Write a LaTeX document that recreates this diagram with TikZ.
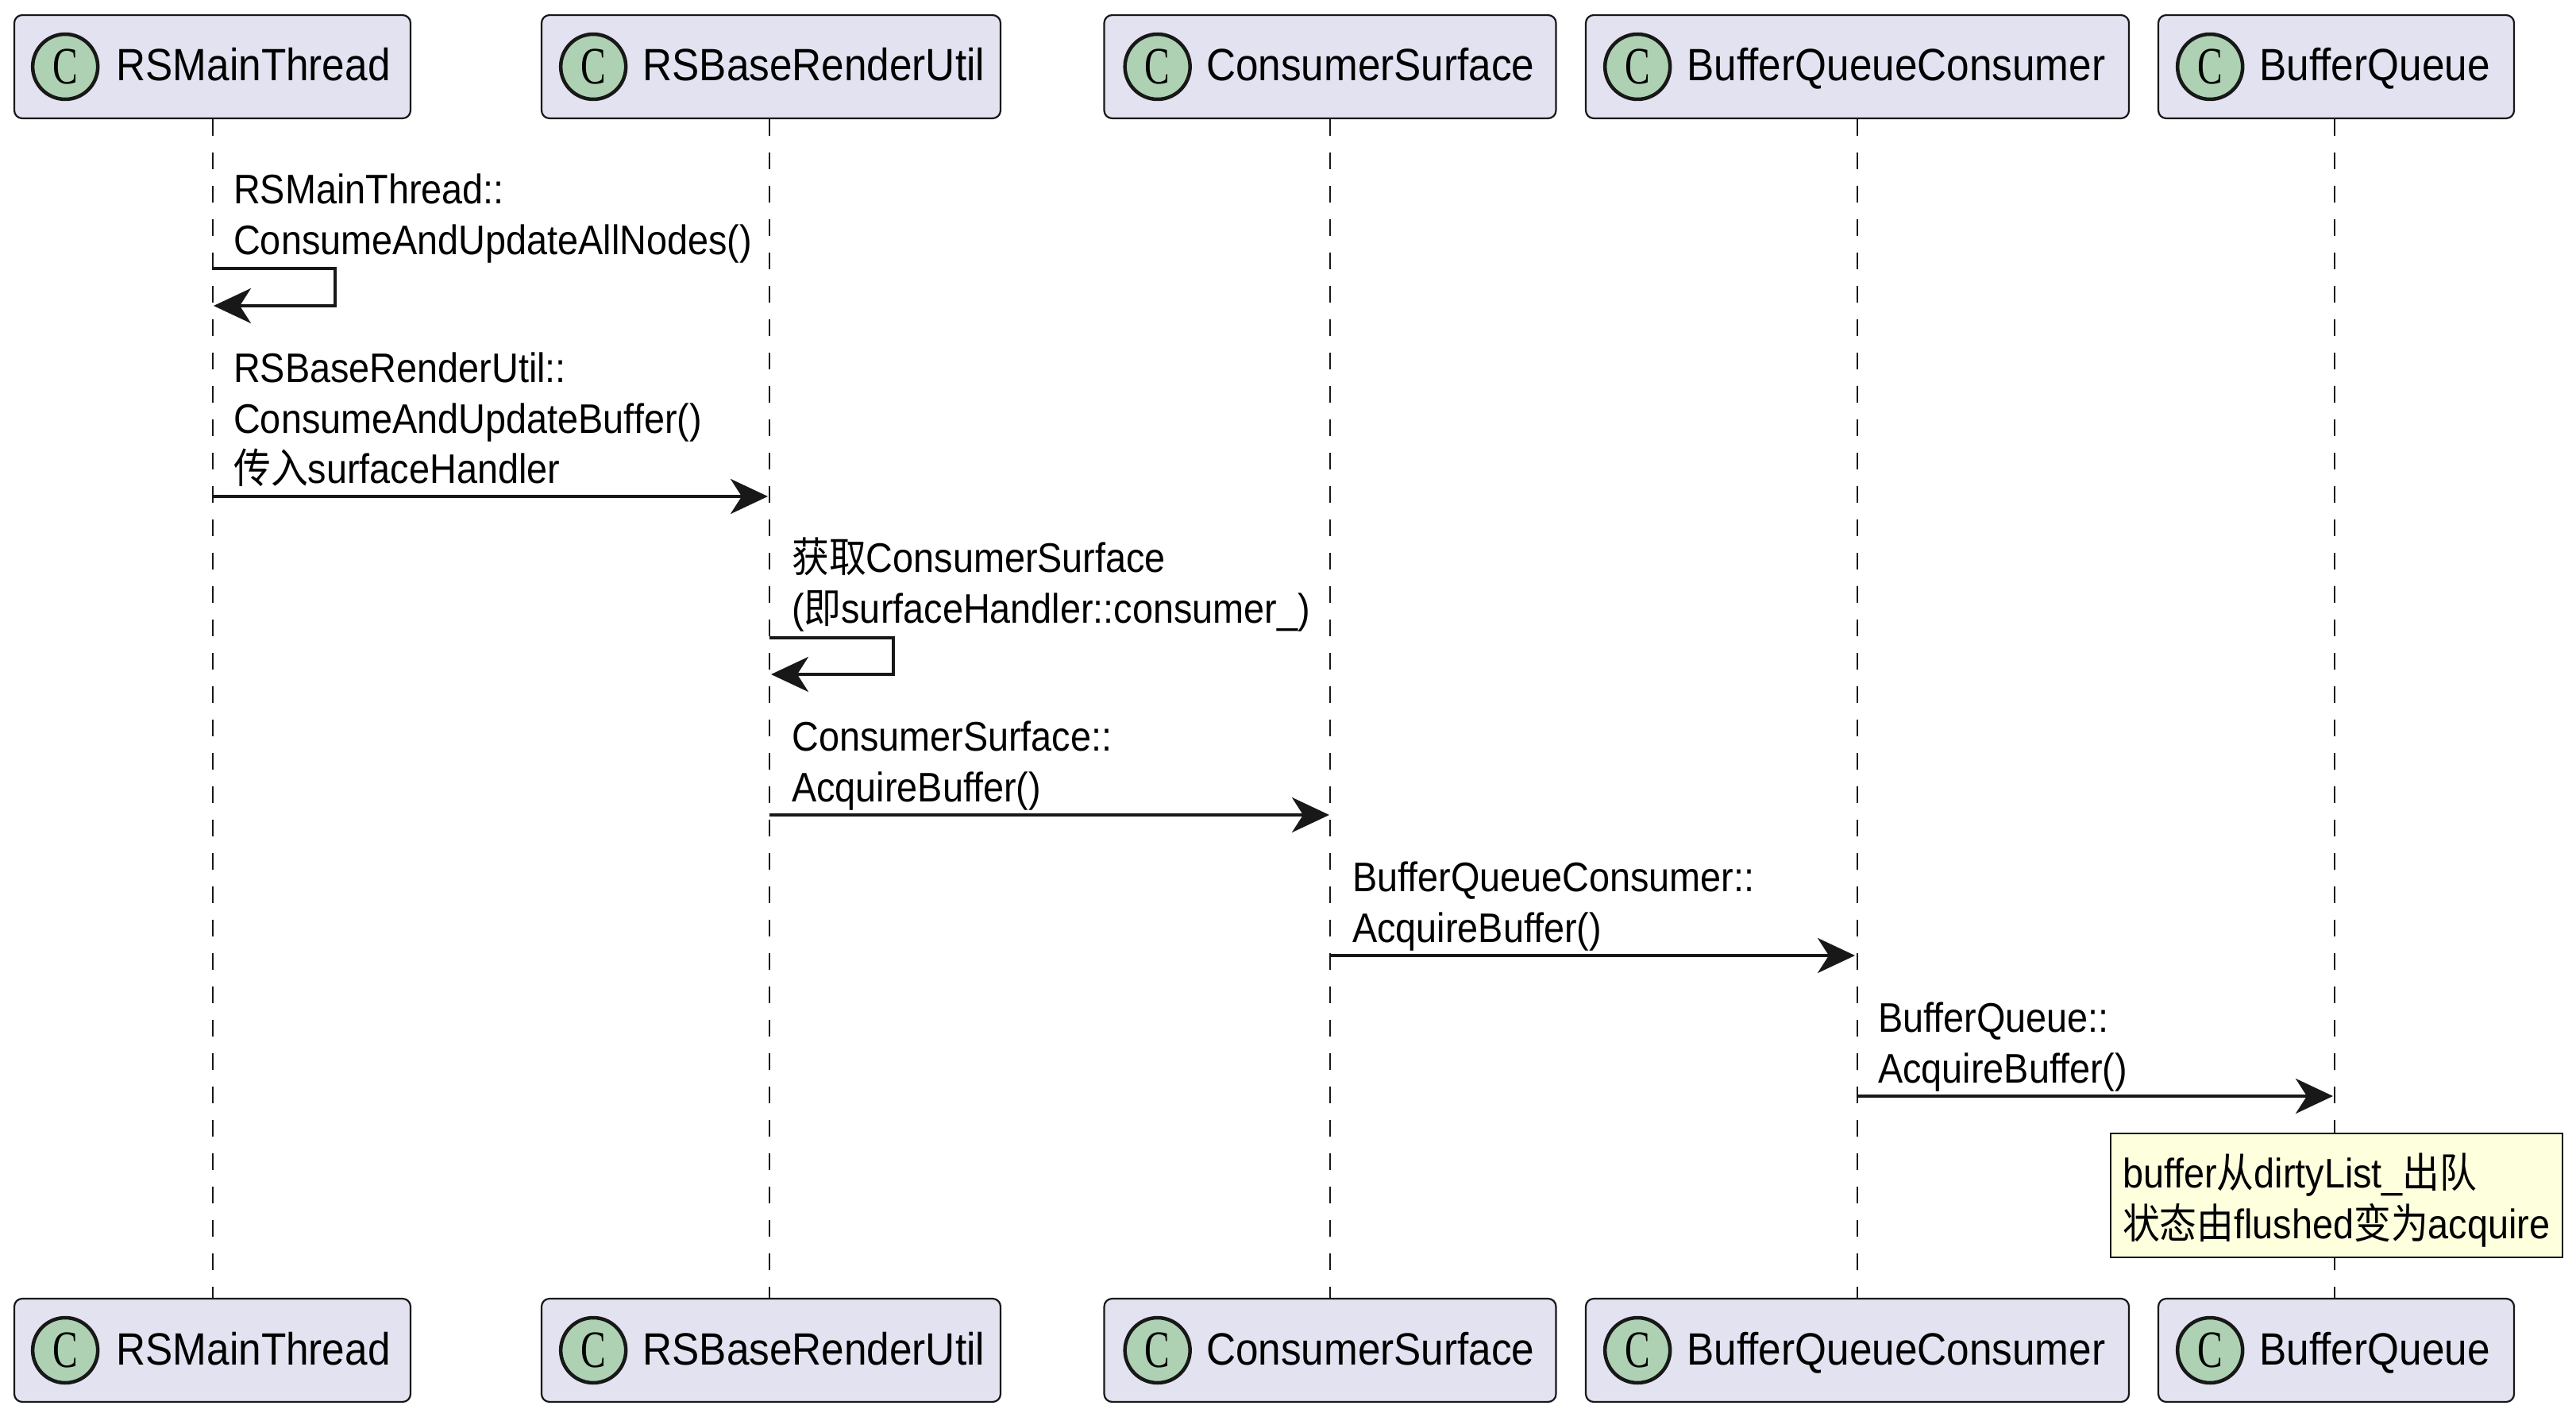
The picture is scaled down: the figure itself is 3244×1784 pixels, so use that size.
\documentclass[tikz,border=0pt]{standalone}
\usepackage{fontspec}
\setmainfont[FakeStretch=0.9]{Liberation Sans}
\newfontfamily\cjk[FakeStretch=0.9]{Noto Sans CJK SC}
\newfontfamily\spotfont[FakeStretch=0.72]{Liberation Serif}
\usepackage{xcolor}
\usetikzlibrary{arrows.meta, positioning}

\definecolor{boxfill}{HTML}{E2E2F0}
\definecolor{linecol}{HTML}{181818}
\definecolor{spotfill}{HTML}{ADD1B2}
\definecolor{notefill}{HTML}{FEFFDD}

\begin{document}
\begin{tikzpicture}[
    x=1pt, y=-1pt,
    actor/.style={draw=linecol, fill=boxfill, line width=2.2pt, rounded corners=10pt, minimum height=130pt, inner sep=0pt},
    spot/.style={draw=linecol, fill=spotfill, line width=4.5pt, circle, minimum size=82pt, inner sep=0pt, font=\spotfont\fontsize{66}{70}\selectfont},
    actorname/.style={font=\fontsize{57}{66}\selectfont, inner sep=0pt, text height=42pt, text depth=6pt},
    lifeline/.style={draw=linecol, line width=2pt, dash pattern=on 21pt off 21pt},
    msg/.style={draw=linecol, line width=4pt, -{Stealth[length=47pt, width=44pt, inset=14pt]}, shorten >=2pt},
    msglabel/.style={font=\fontsize{52}{63.5}\selectfont, align=left, inner sep=0pt},
    note/.style={draw=linecol, fill=notefill, line width=2.2pt, inner xsep=15pt, inner ysep=0pt, minimum height=156pt, text width=539pt, align=left, font=\fontsize{52}{63.5}\selectfont}
]
\useasboundingbox (0,0) rectangle (3244,1784);

% Top participants
\node[actor, minimum width=499pt] (main_top) at (267.5,84) {};
\node[actor, minimum width=578pt] (render_top) at (971,84) {};
\node[actor, minimum width=569pt] (surface_top) at (1675,84) {};
\node[actor, minimum width=684pt] (consumer_top) at (2339,84) {};
\node[actor, minimum width=448pt] (queue_top) at (2942,84) {};

% Bottom participants
\node[actor, minimum width=499pt] (main_bot) at (267.5,1700) {};
\node[actor, minimum width=578pt] (render_bot) at (971,1700) {};
\node[actor, minimum width=569pt] (surface_bot) at (1675,1700) {};
\node[actor, minimum width=684pt] (consumer_bot) at (2339,1700) {};
\node[actor, minimum width=448pt] (queue_bot) at (2942,1700) {};

% Message levels
\coordinate (m1s) at (267,338);
\coordinate (m1a) at (422,338);
\coordinate (m1b) at (422,385);
\coordinate (m1e) at (267,385);
\coordinate (m2s) at (267,625);
\coordinate (m2e) at (969,625);
\coordinate (m3s) at (969,803);
\coordinate (m3a) at (1125,803);
\coordinate (m3b) at (1125,849);
\coordinate (m3e) at (969,849);
\coordinate (m4s) at (969,1026);
\coordinate (m4e) at (1676,1026);
\coordinate (m5s) at (1676,1203);
\coordinate (m5e) at (2338,1203);
\coordinate (m6s) at (2338,1380);
\coordinate (m6e) at (2940,1380);

% Lifelines
\draw[lifeline] (main_top.south) -- (main_bot.north);
\draw[lifeline] (render_top.south -| m2e) -- (render_bot.north -| m2e);
\draw[lifeline] (surface_top.south) -- (surface_bot.north);
\draw[lifeline] (consumer_top.south) -- (consumer_bot.north);
\draw[lifeline] (queue_top.south -| m6e) -- (queue_bot.north -| m6e);

% Spots and names, top
\node[spot, right=22pt of main_top.west] (main_spot) {C};
\node[actorname, right=21pt of main_spot] (main_name) {RSMainThread};
\node[spot, right=23pt of render_top.west] (render_spot) {C};
\node[actorname, right=19pt of render_spot] (render_name) {RSBaseRenderUtil};
\node[spot, right=25pt of surface_top.west] (surface_spot) {C};
\node[actorname, right=18pt of surface_spot] (surface_name) {ConsumerSurface};
\node[spot, right=23pt of consumer_top.west] (consumer_spot) {C};
\node[actorname, right=19pt of consumer_spot] (consumer_name) {BufferQueueConsumer};
\node[spot, right=23pt of queue_top.west] (queue_spot) {C};
\node[actorname, right=19pt of queue_spot] (queue_name) {BufferQueue};

% Spots and names, bottom
\node[spot, right=22pt of main_bot.west] (main_spot2) {C};
\node[actorname, right=21pt of main_spot2] (main_name2) {RSMainThread};
\node[spot, right=23pt of render_bot.west] (render_spot2) {C};
\node[actorname, right=19pt of render_spot2] (render_name2) {RSBaseRenderUtil};
\node[spot, right=25pt of surface_bot.west] (surface_spot2) {C};
\node[actorname, right=18pt of surface_spot2] (surface_name2) {ConsumerSurface};
\node[spot, right=23pt of consumer_bot.west] (consumer_spot2) {C};
\node[actorname, right=19pt of consumer_spot2] (consumer_name2) {BufferQueueConsumer};
\node[spot, right=23pt of queue_bot.west] (queue_spot2) {C};
\node[actorname, right=19pt of queue_spot2] (queue_name2) {BufferQueue};

% Messages
\draw[msg] (m1s) -- (m1a) -- (m1b) -- (m1e);
\draw[msg] (m2s) -- (m2e);
\draw[msg] (m3s) -- (m3a) -- (m3b) -- (m3e);
\draw[msg] (m4s) -- (m4e);
\draw[msg] (m5s) -- (m5e);
\draw[msg] (m6s) -- (m6e);

% Message labels
\node[msglabel, above right=7pt and 27pt of m1s] (l1) {RSMainThread::\\ConsumeAndUpdateAllNodes()};
\node[msglabel, above right=12pt and 27pt of m2s] (l2) {RSBaseRenderUtil::\\ConsumeAndUpdateBuffer()\\{\cjk 传入}surfaceHandler};
\node[msglabel, above right=8pt and 28pt of m3s] (l3) {{\cjk 获取}ConsumerSurface\\({\cjk 即}surfaceHandler::consumer\_)};
\node[msglabel, above right=6pt and 28pt of m4s] (l4) {ConsumerSurface::\\AcquireBuffer()};
\node[msglabel, above right=6pt and 27pt of m5s] (l5) {BufferQueueConsumer::\\AcquireBuffer()};
\node[msglabel, above right=6pt and 27pt of m6s] (l6) {BufferQueue::\\AcquireBuffer()};

% Note
\node[note] (dequeue) at (2942.5,1505) {\rule{0pt}{56pt}buffer{\cjk 从}dirtyList\_{\cjk 出队}\\{\cjk 状态由}flushed{\cjk 变为}acquire};

\end{tikzpicture}
\end{document}
